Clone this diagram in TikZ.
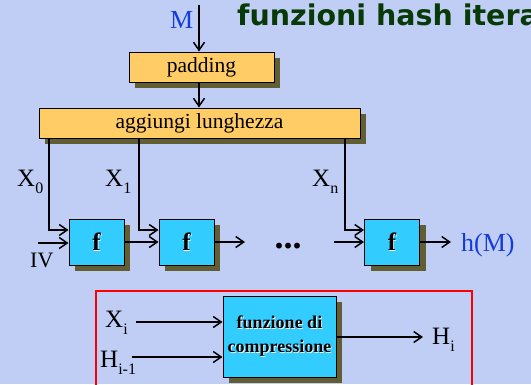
\documentclass[tikz,border=0pt]{standalone}
\usepackage{fontspec}
\setmainfont{Liberation Serif}
\newfontfamily\titlefont{DejaVu Sans}
\newfontfamily\serifbox{Liberation Serif}
\usetikzlibrary{arrows.meta,shadows}
\definecolor{bgc}{RGB}{192,206,246}
\definecolor{orng}{RGB}{255,204,102}
\definecolor{cyanb}{RGB}{51,204,255}
\definecolor{shad}{RGB}{98,94,52}
\definecolor{tgreen}{RGB}{8,58,8}
\definecolor{mblue}{RGB}{20,60,220}
\newcommand{\embtext}[1]{\leavevmode\rlap{\kern0.9pt\raisebox{-0.9pt}{\color{white}#1}}#1}
\newcommand{\lowsub}[1]{\raisebox{-7pt}{\fontsize{16}{16}\selectfont #1}}
\begin{document}
\begin{tikzpicture}[x=1pt,y=-1pt,
  arr/.style={line width=1.5pt,-{Straight Barb[length=8pt,width=11pt]}},
  shd/.style={drop shadow={shadow xshift=6pt,shadow yshift=-6pt,fill=shad,opacity=1}},
  ybox/.style={draw=black,line width=1pt,fill=orng,minimum height=30pt,inner sep=0pt,shd,font=\serifbox\fontsize{21.5}{21.5}\selectfont},
  cbox/.style={draw=black,line width=1pt,fill=cyanb,inner sep=0pt,shd,font=\serifbox\bfseries\fontsize{25}{25}\selectfont},
  lab/.style={inner sep=0pt,anchor=base west,font=\serifbox\fontsize{25}{25}\selectfont}]
\clip (0,0) rectangle (531,384);
\fill[bgc] (0,0) rectangle (531,384);

% title (cut at the right edge, as in the reference)
\node[anchor=base west,inner sep=0pt,text=tgreen,font=\titlefont\bfseries\fontsize{28.5}{28.5}\selectfont] (title) at (237,25) {funzioni hash iterate};

% boxes
\node[ybox,minimum width=145pt] (pad) at (201.5,67) {padding};
\node[ybox,minimum width=321pt] (agg) at (199.5,123) {aggiungi lunghezza};
\node[cbox,minimum width=55pt,minimum height=46pt] (f1) at (96.5,242) {\embtext{f}};
\node[cbox,minimum width=55pt,minimum height=46pt] (f2) at (186.5,242) {\embtext{f}};
\node[cbox,minimum width=55pt,minimum height=46pt] (f3) at (392,242) {\embtext{f}};

% labels
\node[lab,text=mblue,font=\serifbox\fontsize{26}{26}\selectfont] (m) at (170,28) {M};
\node[lab] (x0) at (17,186) {X\lowsub{0}};
\node[lab] (x1) at (105,186) {X\lowsub{1}};
\node[lab] (xn) at (312,186) {X\lowsub{n}};
\node[lab,font=\serifbox\fontsize{22}{22}\selectfont] (iv) at (30,267) {IV};
\node[lab,text=mblue,font=\serifbox\fontsize{26}{26}\selectfont] (hm) at (461,251) {h(M)};
\node[inner sep=0pt,font=\serifbox\bfseries\fontsize{36}{36}\selectfont] (dots) at (288,246) {...};

% connectors
\coordinate (mtop) at (199,5);
\draw[arr] (mtop) -- (mtop |- pad.north);
\draw[arr] (mtop |- pad.south) -- (mtop |- agg.north);
\coordinate (k0) at (49,0);
\coordinate (k1) at (139,0);
\coordinate (kn) at (345,0);
\draw[arr] (k0 |- agg.south) |- ([yshift=12pt]f1.west);
\draw[arr] (k1 |- agg.south) |- ([yshift=12pt]f2.west);
\draw[arr] (kn |- agg.south) |- ([yshift=12pt]f3.west);
\coordinate (ivs) at (38,243);
\draw[arr] (ivs) -- (ivs -| f1.west);
\draw[arr] (f1.east) -- (f2.west);
\coordinate (d1) at (245,242);
\draw[arr] (f2.east) -- (d1);
\coordinate (d2) at (334,242);
\draw[arr] (d2) -- (f3.west);
\coordinate (hend) at (451,242);
\draw[arr] (f3.east) -- (hend);

% compression function legend
\draw[red,line width=2pt] (96,291) rectangle (472,400);
\node[cbox,minimum width=113pt,minimum height=81pt,align=center,font=\serifbox\bfseries\fontsize{18}{24}\selectfont] (comp) at (279.5,336.5) {\embtext{funzione di}\\\embtext{compressione}};
\node[lab] (xi) at (105,327) {X\lowsub{i}};
\node[lab] (hi1) at (100,367) {H\lowsub{i-1}};
\node[lab] (hi) at (432,344) {H\lowsub{i}};
\coordinate (xis) at (136,322);
\draw[arr] (xis) -- (xis -| comp.west);
\coordinate (his) at (132,357);
\draw[arr] (his) -- (his -| comp.west);
\coordinate (hoe) at (423,337);
\draw[arr] (hoe -| comp.east) -- (hoe);
\end{tikzpicture}
\end{document}
